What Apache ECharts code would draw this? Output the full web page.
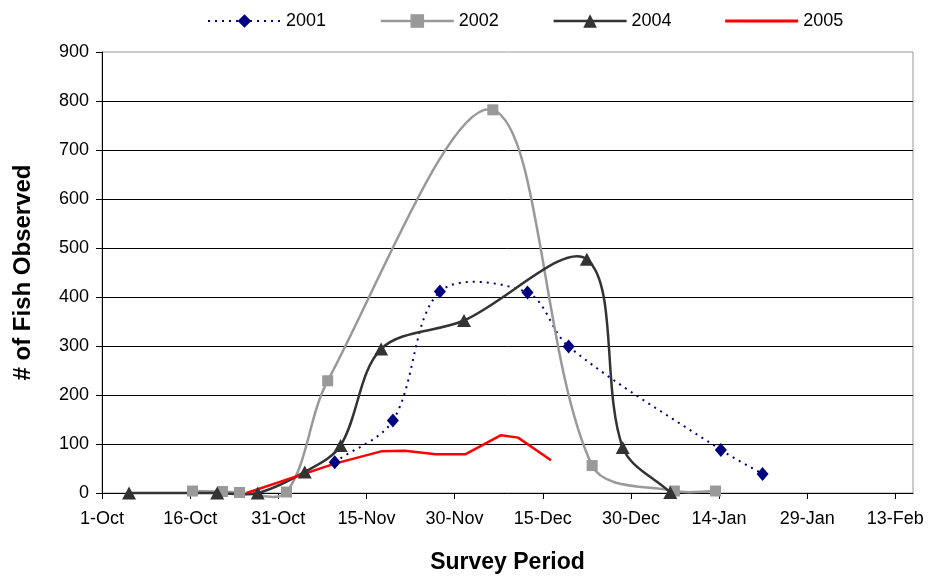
<!DOCTYPE html>
<html>
<head>
<meta charset="utf-8">
<script src="https://cdn.jsdelivr.net/npm/echarts@6/dist/echarts.min.js"></script>
<style>
html,body{margin:0;padding:0;background:#fff;}
#chart{width:932px;height:577px;}
</style>
</head>
<body>
<div id="chart"></div>
<script>
// x values are days after 1-Oct
const xTickLabels = ['1-Oct','16-Oct','31-Oct','15-Nov','30-Nov','15-Dec','30-Dec','14-Jan','29-Jan','13-Feb'];
const yTicks = [0,100,200,300,400,500,600,700,800,900];

const days2001 = [39.6, 49.5, 57.5, 72.4, 79.4, 105.3, 112.4];
const vals2001 = [63, 148, 411, 409, 299, 88, 39];

const days2002 = [15.4, 20.5, 23.4, 31.4, 38.4, 66.5, 83.4, 97.4, 104.4];
const vals2002 = [4, 3, 1, 2, 229, 782, 56, 4, 4];

const days2004 = [4.6, 19.6, 26.5, 34.5, 40.6, 47.5, 61.6, 82.5, 88.6, 96.7];
const vals2004 = [0, 0, 0, 43, 97, 294, 352, 477, 93, 1];

const days2005 = [24.6, 39.6, 47.5, 51.5, 56.8, 61.8, 67.9, 70.8, 76.4];
const vals2005 = [0, 60, 85, 86, 79, 79, 118, 113, 67];

const seriesNames = ['2001','2002','2004','2005'];

function zip(a, b){ return a.map((d,i)=>[d,b[i]]); }

const FONT = '"Liberation Sans", Arial, sans-serif';
const chart = echarts.init(document.getElementById('chart'), null, {renderer:'canvas'});

function dist(a, b){ return Math.hypot(b[0]-a[0], b[1]-a[1]); }

// Excel-like smoothed line: length-weighted bezier through the data points, positioned via the axes (api.coord)
function smoothCurve(name, days, vals, color, width, dash){
  return {
    name: name, type: 'custom', z: 2, clip: false, silent: true,
    data: zip(days, vals),
    encode: {x: 0, y: 1},
    renderItem: function(params, api){
      if (params.dataIndex !== 0) return {type: 'group', children: []};
      const pts = days.map((d,i)=>api.coord([d, vals[i]]));
      const children = [];
      const t = 1/3;
      for (let i = 0; i < pts.length - 1; i++){
        const p0 = pts[i-1] || pts[i], p1 = pts[i], p2 = pts[i+1], p3 = pts[i+2] || pts[i+1];
        const d01 = dist(p0, p1), d12 = dist(p1, p2), d23 = dist(p2, p3);
        const r1 = d12 / ((d01 + d12) || 1), r2 = d12 / ((d12 + d23) || 1);
        children.push({
          type: 'bezierCurve',
          shape: {
            x1: p1[0], y1: p1[1], x2: p2[0], y2: p2[1],
            cpx1: p1[0] + (p2[0]-p0[0])*t*r1, cpy1: p1[1] + (p2[1]-p0[1])*t*r1,
            cpx2: p2[0] - (p3[0]-p1[0])*t*r2, cpy2: p2[1] - (p3[1]-p1[1])*t*r2
          },
          style: {stroke: color, lineWidth: width, fill: null, lineDash: dash || null, lineCap: 'butt'}
        });
      }
      return {type: 'group', children: children};
    }
  };
}

const option = {
  backgroundColor: '#fff',
  animation: false,
  textStyle: {fontFamily: FONT},
  legend: {
    top: 7,
    left: 202,
    itemWidth: 73,
    itemHeight: 17,
    itemGap: 53.5,
    textStyle: {fontSize: 18, color: '#000', fontFamily: FONT},
    lineStyle: {opacity: 1},
    data: [
      {name: '2001', lineStyle: {opacity: 1, width: 2}},
      {name: '2002', lineStyle: {opacity: 1, width: 2.5}},
      {name: '2004', lineStyle: {opacity: 1, width: 2.5}},
      {name: '2005', icon: 'path://M0,0H73V3H0Z'}
    ]
  },
  grid: {
    left: 102, right: 19, top: 52, bottom: 84,
    outerBoundsMode: 'none', containLabel: false,
    show: true, borderColor: '#999', borderWidth: 1, backgroundColor: 'transparent'
  },
  xAxis: {
    type: 'value',
    min: 0, max: 138,
    name: 'Survey Period',
    nameLocation: 'middle',
    nameGap: 58,
    nameTextStyle: {fontSize: 23, fontWeight: 'bold', color: '#000', fontFamily: FONT},
    axisLine: {show: true, lineStyle: {color: '#000', width: 1}},
    axisTick: {show: true, length: 6, lineStyle: {color: '#000'}, customValues: xTickLabels.map((_,i)=>i*15)},
    axisLabel: {
      fontSize: 18, color: '#000', margin: 17, fontFamily: FONT,
      customValues: xTickLabels.map((_,i)=>i*15),
      formatter: v => xTickLabels[Math.round(v/15)] || ''
    },
    splitLine: {show: false}
  },
  yAxis: {
    type: 'value',
    min: 0, max: 900, interval: 100,
    name: '# of Fish Observed',
    nameLocation: 'middle',
    nameRotate: 90,
    nameGap: 67,
    nameTextStyle: {fontSize: 24, fontWeight: 'bold', color: '#000', fontFamily: FONT},
    axisLine: {show: true, lineStyle: {color: '#000', width: 1}},
    axisTick: {show: true, length: 6, lineStyle: {color: '#000'}},
    axisLabel: {fontSize: 18, color: '#000', margin: 13, fontFamily: FONT,
      formatter: v => yTicks.includes(v) ? String(v) : ''},
    splitLine: {show: true, showMaxLine: false, showMinLine: false, lineStyle: {color: '#000', width: 1}}
  },
  series: [
    smoothCurve('2001 curve', days2001, vals2001, '#000080', 2, [2, 5]),
    smoothCurve('2002 curve', days2002, vals2002, '#999999', 2.5),
    smoothCurve('2004 curve', days2004, vals2004, '#333333', 2.5),
    {
      name: '2001', type: 'line', data: zip(days2001, vals2001), z: 3,
      symbol: 'diamond', symbolSize: [12, 14],
      itemStyle: {color: '#000080'},
      lineStyle: {color: '#000080', width: 2, type: [2, 5], opacity: 0}
    },
    {
      name: '2002', type: 'line', data: zip(days2002, vals2002), z: 3,
      symbol: 'rect', symbolSize: 11,
      itemStyle: {color: '#999999'},
      lineStyle: {color: '#999999', width: 2.5, opacity: 0}
    },
    {
      name: '2004', type: 'line', data: zip(days2004, vals2004), z: 3,
      symbol: 'triangle', symbolSize: [14, 13],
      itemStyle: {color: '#333333'},
      lineStyle: {color: '#333333', width: 2.5, opacity: 0}
    },
    {
      name: '2005', type: 'line', data: zip(days2005, vals2005), z: 2.5,
      smooth: false, clip: false,
      symbol: 'none',
      itemStyle: {color: '#ff0000'},
      lineStyle: {color: '#ff0000', width: 2.5}
    }
  ]
};
chart.setOption(option);
</script>
</body>
</html>
